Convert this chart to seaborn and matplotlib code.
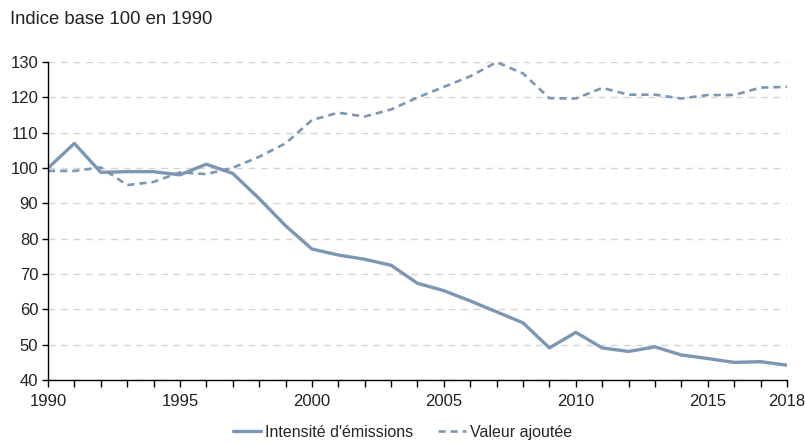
import pandas as pd
import seaborn as sns
from matplotlib import pyplot as plt

years = list(range(1990, 2019))
intensite = [100, 107, 98.8, 99, 99, 98.1, 101.1, 98.5, 91.4, 83.7,
             77.1, 75.4, 74.2, 72.5, 67.4, 65.3, 62.4, 59.3, 56.2, 49.1,
             53.5, 49.1, 48.1, 49.4, 47.1, 46.1, 45.0, 45.2, 44.2]
valeur = [99.2, 99.2, 100.2, 95.2, 96.1, 98.8, 98.3, 100.1, 103.2, 107.0,
          113.6, 115.7, 114.6, 116.6, 120.0, 123.0, 126.0, 130.0, 126.8, 119.8,
          119.7, 122.7, 120.8, 120.8, 119.7, 120.7, 120.7, 122.8, 123.0]
series_names = ["Intensité d'émissions", "Valeur ajoutée"]
title = "Indice base 100 en 1990"

df = pd.DataFrame({"annee": years, series_names[0]: intensite, series_names[1]: valeur})
df = df.melt(id_vars="annee", var_name="serie", value_name="indice")

sns.set_style("white")
plt.rcParams['font.family'] = ['Liberation Sans', 'DejaVu Sans']

color = "#7c96b4"
fig = plt.figure(figsize=(8.05, 4.44), dpi=100)
ax = fig.add_axes([0.0596, 0.144, 0.918, 0.716])

for name, ls, lw in [(series_names[0], "-", 2.4), (series_names[1], (0, (2.7, 1.9)), 1.9)]:
    sub = df[df["serie"] == name]
    sns.lineplot(data=sub, x="annee", y="indice", ax=ax, color=color,
                 linestyle=ls, linewidth=lw, label=name, legend=False)

ax.set_xlim(1990, 2018)
ax.set_ylim(40, 130)
ax.set_yticks(range(40, 131, 10))
ax.set_xticks([1990, 1995, 2000, 2005, 2010, 2015, 2018])
ax.set_xticks(years, minor=True)
ax.grid(axis="y", color="#d6d6d6", linestyle=(0, (5, 4)), linewidth=1)
ax.set_axisbelow(True)
ax.set_xlabel("")
ax.set_ylabel("")
for side in ["top", "right"]:
    ax.spines[side].set_visible(False)
for side in ["left", "bottom"]:
    ax.spines[side].set_color("black")
    ax.spines[side].set_linewidth(1)
ax.tick_params(axis="x", which="both", bottom=True, direction="out", length=5, width=1,
               color="black", labelsize=12, labelcolor="#222222", pad=5)
ax.tick_params(axis="y", which="both", left=True, direction="out", length=4, width=1,
               color="black", labelsize=12, labelcolor="#222222", pad=3)

fig.text(0.013, 0.955, title, fontsize=13.3, color="#222222", va="center")

handles, labels = ax.get_legend_handles_labels()
fig.legend(handles, labels, loc="center", bbox_to_anchor=(0.5, 0.027), ncol=2,
           frameon=False, fontsize=11.5, handlelength=1.75, columnspacing=1.6,
           handletextpad=0.25)

fig.savefig("out.png", dpi=100)
